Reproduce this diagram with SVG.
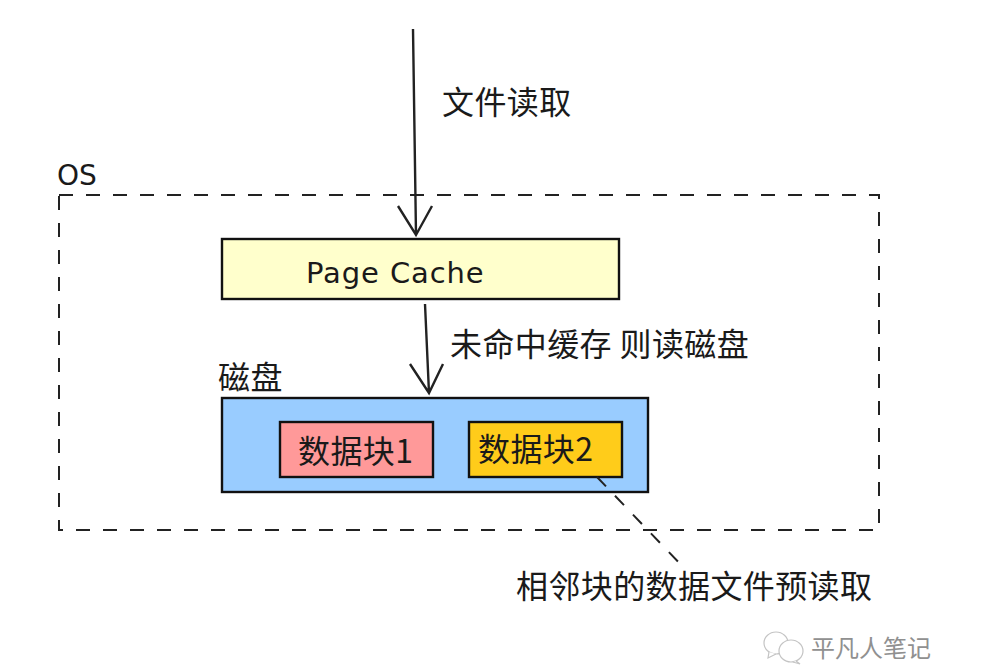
<svg xmlns="http://www.w3.org/2000/svg" width="991" height="670" viewBox="0 0 991 670">
<style>
text{font-family:"Noto Sans CJK SC","DejaVu Sans",sans-serif;font-size:32px;fill:#1a1a1a;letter-spacing:.4px}
.l{font-family:"DejaVu Sans",sans-serif;font-size:29px;letter-spacing:0}
.b{stroke:#111;stroke-width:2.4}
.c{fill:none;stroke:#222;stroke-width:2.4}
.d{fill:none;stroke:#222;stroke-width:2;stroke-dasharray:14 13}
.w{fill:#fff;stroke:#c4c4c4;stroke-width:1.2}
</style>
<rect width="991" height="670" fill="#fff"/>
<g id="os"><rect class="d" x="59" y="195" width="820" height="335"/><text x="57" y="185" class="l" style="font-size:28px">OS</text></g>
<g id="read-label"><text x="442" y="114">文件读取</text></g>
<g id="page-cache"><rect class="b" x="222" y="239" width="397" height="60" fill="#ffffcc"/><text x="306" y="283" class="l" style="letter-spacing:.9px">Page Cache</text></g>
<g id="miss-label"><text x="450" y="356" xml:space="preserve">未命中缓存 则读磁盘</text></g>
<g id="disk"><text x="218" y="389">磁盘</text><rect class="b" x="222" y="398" width="426" height="94" fill="#99ccff"/></g>
<g id="block1"><rect class="b" x="280" y="422" width="153" height="55" fill="#ff9999"/><text x="298" y="463">数据块1</text></g>
<g id="block2"><rect class="b" x="469" y="422" width="153" height="55" fill="#ffcc1a"/><text x="478" y="461">数据块2</text></g>
<g id="prefetch-label"><text x="516" y="598">相邻块的数据文件预读取</text></g>
<g id="connectors">
<path class="c" d="M413 29L416 235M398 206L416 235L432 206"/>
<path class="c" d="M425 304L429 393M410 364L429 393L443 364"/>
<path class="d" d="M597 477L686 570" style="stroke-dasharray:13 13"/>
</g>
<g id="watermark">
<ellipse class="w" cx="776" cy="643" rx="12" ry="11"/><path class="w" d="M769 652L768 658L776 654"/>
<ellipse class="w" cx="791" cy="651" rx="12" ry="11"/><path class="w" d="M796 661L800 664L793 662"/>
<text x="811" y="657" style="font-size:24px;fill:#909090;letter-spacing:0">平凡人笔记</text>
</g>
</svg>
